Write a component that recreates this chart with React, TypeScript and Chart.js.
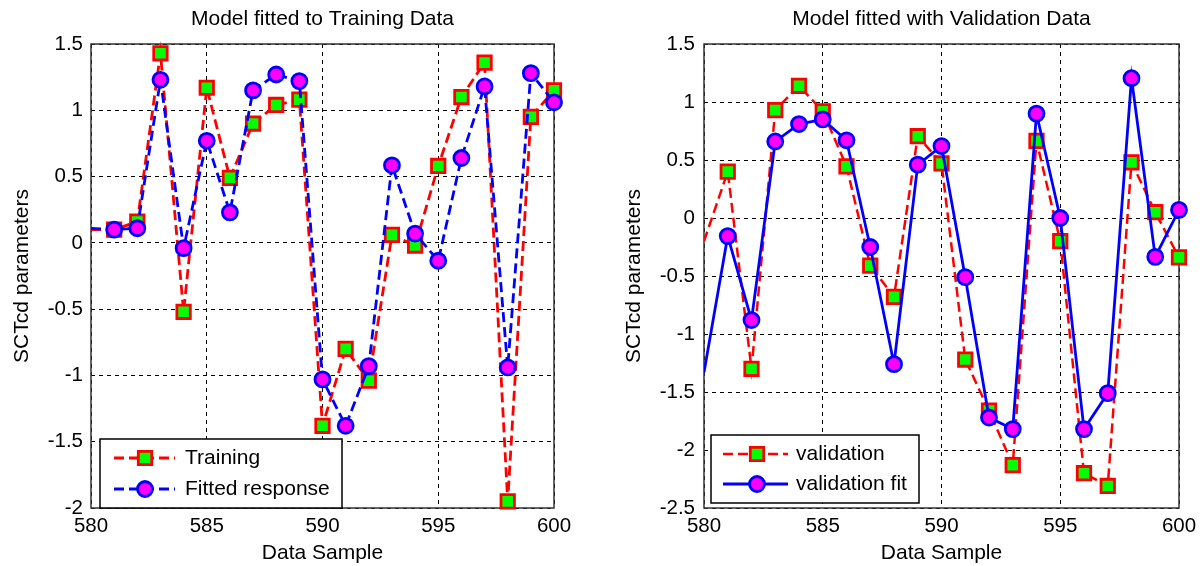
import React, { useEffect, useRef } from 'react';
import { Chart, registerables } from 'chart.js';

Chart.register(...registerables);

// ---------- data ----------
const samples = [580, 581, 582, 583, 584, 585, 586, 587, 588, 589, 590, 591, 592, 593, 594, 595, 596, 597, 598, 599, 600];
const training = [0.10, 0.10, 0.16, 1.43, -0.52, 1.17, 0.49, 0.90, 1.04, 1.08, -1.38, -0.80, -1.04, 0.06, -0.02, 0.58, 1.10, 1.36, -1.95, 0.95, 1.15];
const fittedResponse = [0.11, 0.10, 0.11, 1.23, -0.04, 0.77, 0.23, 1.15, 1.27, 1.22, -1.03, -1.38, -0.93, 0.585, 0.07, -0.135, 0.64, 1.18, -0.94, 1.28, 1.06];
const validation = [-0.20, 0.40, -1.30, 0.93, 1.14, 0.92, 0.445, -0.41, -0.68, 0.705, 0.47, -1.22, -1.66, -2.13, 0.665, -0.20, -2.20, -2.31, 0.48, 0.05, -0.34];
const validationFit = [-1.33, -0.156, -0.88, 0.66, 0.81, 0.85, 0.67, -0.25, -1.26, 0.46, 0.62, -0.51, -1.72, -1.82, 0.90, 0.0, -1.82, -1.51, 1.205, -0.335, 0.07];

const xTicks = [580, 585, 590, 595, 600];
const leftYTicks = [-2, -1.5, -1, -0.5, 0, 0.5, 1, 1.5];
const rightYTicks = [-2.5, -2, -1.5, -1, -0.5, 0, 0.5, 1, 1.5];

const leftTitle = 'Model fitted to Training Data';
const rightTitle = 'Model fitted with Validation Data';
const xLabel = 'Data Sample';
const yLabel = 'SCTcd parameters';

// ---------- styles ----------
const FONT = "'Liberation Sans', Arial, Helvetica, sans-serif";
const TEXT = '#000000';
const RED = '#ff0000';
const GREEN = '#00ff00';
const BLUE = '#0000ff';
const MAGENTA = '#ff00ff';
const DASH = [10, 5];

type Marker = 'rect' | 'circle';
interface Series {
  label: string;
  values: number[];
  color: string;
  dash: number[];
  width: number;
  marker: Marker;
  fill: string;
  radius: number;
  order: number;
}
interface LegendSpec {
  dx: number;
  width: number;
  height: number;
  dyBottom: number;
  rows: number[];
  lineX: [number, number];
  markerX: number;
  textX: number;
}
interface PanelSpec {
  title: string;
  series: Series[];
  yTicks: number[];
  yAxisWidth: number;
  yTitlePad: number;
  yTickPad: number;
  padRight: number;
  legend: LegendSpec;
}

function drawMarker(ctx: CanvasRenderingContext2D, m: Marker, x: number, y: number, r: number, stroke: string, fill: string, bw: number) {
  ctx.save();
  ctx.setLineDash([]);
  ctx.lineWidth = bw;
  ctx.strokeStyle = stroke;
  ctx.fillStyle = fill;
  ctx.beginPath();
  if (m === 'rect') {
    const s = Math.SQRT1_2 * r;
    ctx.rect(x - s, y - s, 2 * s, 2 * s);
  } else {
    ctx.arc(x, y, r, 0, Math.PI * 2);
  }
  ctx.fill();
  ctx.stroke();
  ctx.restore();
}

const framePlugin = {
  id: 'frame',
  beforeDatasetsDraw(chart: any) {
    const { ctx, chartArea: a } = chart;
    ctx.save();
    ctx.setLineDash([]);
    ctx.strokeStyle = '#333333';
    ctx.lineWidth = 1.5;
    ctx.strokeRect(a.left, a.top, a.right - a.left, a.bottom - a.top);
    ctx.restore();
  },
};

function makeLegendPlugin(spec: PanelSpec) {
  return {
    id: 'boxLegend',
    afterDatasetsDraw(chart: any) {
      const { ctx, chartArea: a } = chart;
      const L = spec.legend;
      const left = a.left + L.dx;
      const top = a.bottom - L.dyBottom - L.height;
      ctx.save();
      ctx.fillStyle = '#ffffff';
      ctx.fillRect(left, top, L.width, L.height);
      ctx.setLineDash([]);
      ctx.strokeStyle = '#000000';
      ctx.lineWidth = 1.5;
      ctx.strokeRect(left, top, L.width, L.height);
      spec.series.forEach((s, i) => {
        const y = top + L.rows[i];
        ctx.save();
        ctx.setLineDash(s.dash);
        ctx.strokeStyle = s.color;
        ctx.lineWidth = s.width;
        ctx.beginPath();
        ctx.moveTo(left + L.lineX[0], y);
        ctx.lineTo(left + L.lineX[1], y);
        ctx.stroke();
        ctx.restore();
        drawMarker(ctx, s.marker, left + L.markerX, y, s.radius, s.color, s.fill, 2.8);
        ctx.fillStyle = TEXT;
        ctx.font = `21px ${FONT}`;
        ctx.textBaseline = 'middle';
        ctx.textAlign = 'left';
        ctx.fillText(s.label, left + L.textX, y);
      });
      ctx.restore();
    },
  };
}

function buildConfig(spec: PanelSpec): any {
  const xMin = xTicks[0];
  const xMax = xTicks[xTicks.length - 1];
  const yMin = spec.yTicks[0];
  const yMax = spec.yTicks[spec.yTicks.length - 1];
  const tickFont = { family: FONT, size: 20.5 };
  const labelFont = { family: FONT, size: 21, weight: 'normal' as const };
  const grid = { color: '#000000', lineWidth: 1, drawTicks: false };
  const border = { display: false, dash: [4, 4] };
  return {
    type: 'line',
    data: {
      datasets: spec.series.map((s) => ({
        label: s.label,
        data: samples.map((x, i) => ({ x, y: s.values[i] })),
        borderColor: s.color,
        borderWidth: s.width,
        borderDash: s.dash,
        fill: false,
        tension: 0,
        pointStyle: s.marker,
        pointRadius: (c: any) => (samples[c.dataIndex] <= xMin ? 0 : s.radius),
        pointBorderColor: s.color,
        pointBackgroundColor: s.fill,
        pointBorderWidth: 2.8,
        order: s.order,
        clip: { left: 0, top: 12, right: 12, bottom: 12 },
      })),
    },
    options: {
      responsive: false,
      animation: false,
      devicePixelRatio: 1,
      events: [],
      layout: { padding: { left: 0, right: spec.padRight, top: 0, bottom: 0 } },
      plugins: {
        legend: { display: false },
        tooltip: { enabled: false },
        title: {
          display: true,
          text: spec.title,
          fullSize: false,
          color: TEXT,
          font: labelFont,
          padding: { top: 7, bottom: 11.8 },
        },
      },
      scales: {
        x: {
          type: 'linear',
          min: xMin,
          max: xMax,
          afterBuildTicks: (sc: any) => {
            sc.ticks = xTicks.map((v) => ({ value: v }));
          },
          afterFit: (sc: any) => {
            sc.height = 58;
          },
          ticks: {
            font: tickFont,
            color: TEXT,
            padding: 6,
            maxRotation: 0,
            autoSkip: false,
            callback: (v: any) => String(v),
          },
          grid,
          border,
          title: {
            display: true,
            text: xLabel,
            color: TEXT,
            font: labelFont,
            padding: { top: 0, bottom: 0.4 },
          },
        },
        y: {
          type: 'linear',
          min: yMin,
          max: yMax,
          afterBuildTicks: (sc: any) => {
            sc.ticks = spec.yTicks.map((v) => ({ value: v }));
          },
          afterFit: (sc: any) => {
            sc.width = spec.yAxisWidth;
          },
          ticks: {
            font: tickFont,
            color: TEXT,
            padding: spec.yTickPad,
            autoSkip: false,
            callback: (v: any) => String(v),
          },
          grid,
          border,
          title: {
            display: true,
            text: yLabel,
            color: TEXT,
            font: labelFont,
            padding: { top: spec.yTitlePad, bottom: 0 },
          },
        },
      },
    },
    plugins: [framePlugin, makeLegendPlugin(spec)],
  };
}

const leftSpec: PanelSpec = {
  title: leftTitle,
  series: [
    { label: 'Training', values: training, color: RED, dash: DASH, width: 2.8, marker: 'rect', fill: GREEN, radius: 9.5, order: 2 },
    { label: 'Fitted response', values: fittedResponse, color: BLUE, dash: DASH, width: 2.8, marker: 'circle', fill: MAGENTA, radius: 7.5, order: 1 },
  ],
  yTicks: leftYTicks,
  yAxisWidth: 91,
  yTitlePad: 9.9,
  yTickPad: 8,
  padRight: 48,
  legend: { dx: 9, width: 242, height: 69, dyBottom: 0, rows: [19, 50], lineX: [14, 75], markerX: 45, textX: 85 },
};

const rightSpec: PanelSpec = {
  title: rightTitle,
  series: [
    { label: 'validation', values: validation, color: RED, dash: DASH, width: 2.5, marker: 'rect', fill: GREEN, radius: 9.5, order: 2 },
    { label: 'validation fit', values: validationFit, color: BLUE, dash: [], width: 2.8, marker: 'circle', fill: MAGENTA, radius: 7.5, order: 1 },
  ],
  yTicks: rightYTicks,
  yAxisWidth: 102,
  yTitlePad: 19.4,
  yTickPad: 9,
  padRight: 25,
  legend: { dx: 7, width: 208, height: 68, dyBottom: 5, rows: [19, 49], lineX: [12, 77], markerX: 46, textX: 85 },
};

function Panel({ spec }: { spec: PanelSpec }) {
  const ref = useRef<HTMLCanvasElement>(null);
  useEffect(() => {
    if (!ref.current) return;
    const chart = new Chart(ref.current, buildConfig(spec));
    return () => chart.destroy();
  }, [spec]);
  return (
    <div style={{ width: 602, height: 566, position: 'relative' }}>
      <canvas ref={ref} width={602} height={566} style={{ display: 'block', width: 602, height: 566 }} />
    </div>
  );
}

export default function App() {
  return (
    <div
      style={{
        position: 'fixed',
        left: 0,
        top: 0,
        width: 1204,
        height: 566,
        background: '#ffffff',
        display: 'flex',
        overflow: 'hidden',
      }}
    >
      <Panel spec={leftSpec} />
      <Panel spec={rightSpec} />
    </div>
  );
}
